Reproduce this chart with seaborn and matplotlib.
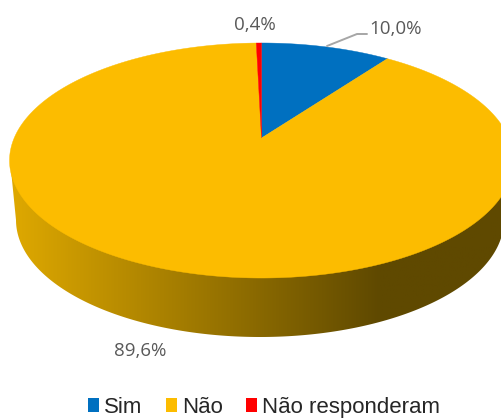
import numpy as np
import seaborn as sns
import matplotlib
matplotlib.use("Agg")
import matplotlib.pyplot as plt
from matplotlib.colors import LinearSegmentedColormap
from matplotlib.patches import Patch, Polygon

# ===============================
# DATA
# ===============================
categories = ["Sim", "Não", "Não responderam"]
values = [10.0, 89.6, 0.4]
value_labels = ["10,0%", "89,6%", "0,4%"]
colors = ["#0070C0", "#FCBC00", "#FF0000"]

# ===============================
# PROJECTION (disc seen in perspective, pixel units)
# ===============================
K = 0.1915
TOP = dict(cx=261.5, cy=138, rx=247.3, ry=113.2)
BOTTOM_CX, BOTTOM_CY, BOTTOM_RX, BOTTOM_RY = 260, 220, 244, 117


def top_point(angle):
    # angle in degrees, clockwise from 12 o'clock
    a = np.radians(angle)
    w = 1 + K * np.cos(a)
    x = TOP["cx"] + TOP["rx"] * np.sin(a) / w
    y = TOP["cy"] - TOP["ry"] * np.cos(a) / w
    return np.column_stack([x, y])


sns.set_theme(style="white")
plt.rcParams["font.family"] = ["Open Sans", "DejaVu Sans"]

fig = plt.figure(figsize=(5.02, 4.19), dpi=100)
ax = fig.add_axes([0, 0, 1, 1])

# ---------- side wall ----------
wall_cmap = LinearSegmentedColormap.from_list(
    "wall", [(0, "#DFA900"), (370 / 492, "#5F4900"), (1, "#5F4900")]
)
grad = ax.imshow(
    np.linspace(0, 1, 256).reshape(1, -1),
    cmap=wall_cmap,
    extent=(10, 502, 345, 150),
    aspect="auto",
    zorder=1,
)
t = np.radians(np.linspace(180, 0, 200))
wall_x = BOTTOM_CX + BOTTOM_RX * np.cos(t)
wall_y = BOTTOM_CY + BOTTOM_RY * np.sin(t)
wall_pts = np.column_stack([
    np.r_[10, wall_x, 514],
    np.r_[160, wall_y, 160],
])
clip = Polygon(wall_pts, closed=True, transform=ax.transData, facecolor="none", edgecolor="none")
ax.add_patch(clip)
grad.set_clip_path(clip)

# ---------- top surface ----------
edges = np.r_[0, np.cumsum(values)] * 360 / np.sum(values)
for start, stop, col in zip(edges[:-1], edges[1:], colors):
    arc = top_point(np.linspace(start, stop, max(int(stop - start) * 2, 8)))
    pts = np.vstack([[TOP["cx"], TOP["cy"]], arc])
    ax.fill(pts[:, 0], pts[:, 1], color=col, lw=0.3, zorder=2)

# ---------- labels ----------
label_color = "#595959"
ax.plot([327, 357, 367], [46, 34, 34], color="#A6A6A6", lw=1.4, zorder=3)
ax.text(396, 29, value_labels[0], ha="center", va="center", fontsize=13.5, color=label_color)
ax.text(140, 351, value_labels[1], ha="center", va="center", fontsize=13.5, color=label_color)
ax.text(255, 25, value_labels[2], ha="center", va="center", fontsize=13.5, color=label_color)

# ---------- legend ----------
handles = [Patch(facecolor=c, edgecolor="none") for c in colors]
ax.legend(
    handles,
    categories,
    ncol=3,
    loc="center",
    bbox_to_anchor=(0.526, 0.028),
    frameon=False,
    prop={"family": "Liberation Sans", "size": 16},
    handlelength=0.5,
    handleheight=0.55,
    handletextpad=0.23,
    columnspacing=1.05,
    borderpad=0,
    labelcolor="#262626",
)

ax.set_xlim(0, 502)
ax.set_ylim(419, 0)
ax.axis("off")

fig.savefig("out.png", dpi=100, facecolor="white")
